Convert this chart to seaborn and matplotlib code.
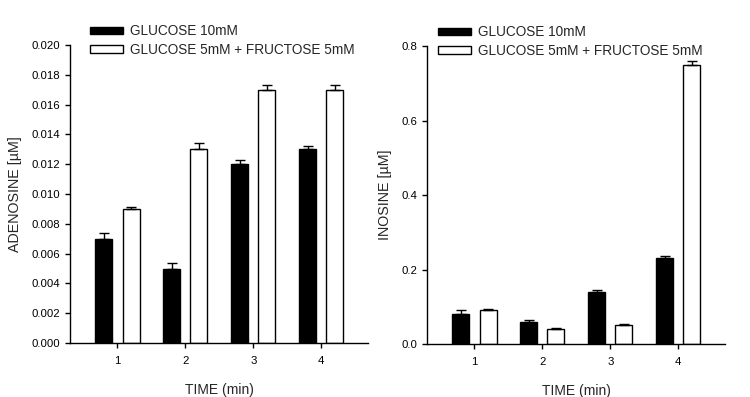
import pandas as pd
import matplotlib.pyplot as plt
import seaborn as sns
import numpy as np
from matplotlib.patches import Patch

times = [1, 2, 3, 4]
groups = ['GLUCOSE 10mM', 'GLUCOSE 5mM + FRUCTOSE 5mM']

# adenosine (uM)
ado_glu = [0.007, 0.005, 0.012, 0.013]
ado_glu_err = [0.0004, 0.0004, 0.0003, 0.0002]
ado_fru = [0.009, 0.013, 0.017, 0.017]
ado_fru_err = [0.0001, 0.0004, 0.0003, 0.0003]

# inosine (uM)
ino_glu = [0.08, 0.06, 0.14, 0.23]
ino_glu_err = [0.01, 0.005, 0.005, 0.005]
ino_fru = [0.09, 0.04, 0.05, 0.75]
ino_fru_err = [0.005, 0.004, 0.005, 0.01]

sns.set_style('ticks')
plt.rcParams['font.family'] = ['Liberation Sans', 'DejaVu Sans']
plt.rcParams['font.size'] = 10

fig = plt.figure(figsize=(7.5, 3.97), dpi=100)
ax1 = fig.add_axes([0.0933, 0.136, 0.3973, 0.7506])
ax2 = fig.add_axes([0.5693, 0.1335, 0.3973, 0.7506])


def panel(ax, glu, glu_err, fru, fru_err, ylabel, yticks, fmt, leg_x):
    df = pd.DataFrame({
        'Time': times * 2,
        'value': glu + fru,
        'err': glu_err + fru_err,
        'group': [groups[0]] * 4 + [groups[1]] * 4,
    })
    sns.barplot(data=df, x='Time', y='value', hue='group', native_scale=True,
                palette=['black', 'white'], edgecolor='black', linewidth=1,
                width=0.8, gap=0.375, errorbar=None, legend=False, ax=ax)
    # one-sided error bars on top of each bar
    for cont, g in zip(ax.containers, groups):
        sub = df[df.group == g]
        xs = [p.get_x() + p.get_width() / 2 for p in cont.patches]
        ax.errorbar(xs, sub['value'], yerr=[np.zeros(len(sub)), sub['err']],
                    fmt='none', ecolor='black', elinewidth=1, capsize=3.5, capthick=1)
    ax.set_xlim(0.3, 4.69)
    ax.set_ylim(yticks[0], yticks[-1])
    ax.set_yticks(yticks)
    ax.set_yticklabels([fmt.format(t) for t in yticks])
    ax.set_xticks(times)
    ax.set_xticklabels([str(t) for t in times])
    ax.set_xlabel('TIME (min)', fontsize=10, labelpad=12)
    ax.set_ylabel(ylabel, fontsize=10.3, labelpad=7)
    ax.tick_params(direction='out', length=3.6, width=1, labelsize=8.2, colors='black')
    ax.tick_params(axis='x', pad=6)
    for s in ['left', 'bottom']:
        ax.spines[s].set_linewidth(1)
        ax.spines[s].set_color('black')
    sns.despine(ax=ax)
    handles = [Patch(facecolor='black', edgecolor='black'),
               Patch(facecolor='white', edgecolor='black')]
    ax.legend(handles, groups, loc='upper left', bbox_to_anchor=(leg_x, 1.088),
              frameon=False, fontsize=9.8, handlelength=2.43, handleheight=0.5,
              labelspacing=0.36, handletextpad=0.5, borderaxespad=0)


panel(ax1, ado_glu, ado_glu_err, ado_fru, ado_fru_err, 'ADENOSINE [µM]',
      np.arange(0, 0.0201, 0.002), '{:.3f}', 0.05)
panel(ax2, ino_glu, ino_glu_err, ino_fru, ino_fru_err, 'INOSINE [µM]',
      np.arange(0, 0.81, 0.2), '{:.1f}', 0.02)

plt.savefig('out.png', dpi=100)
